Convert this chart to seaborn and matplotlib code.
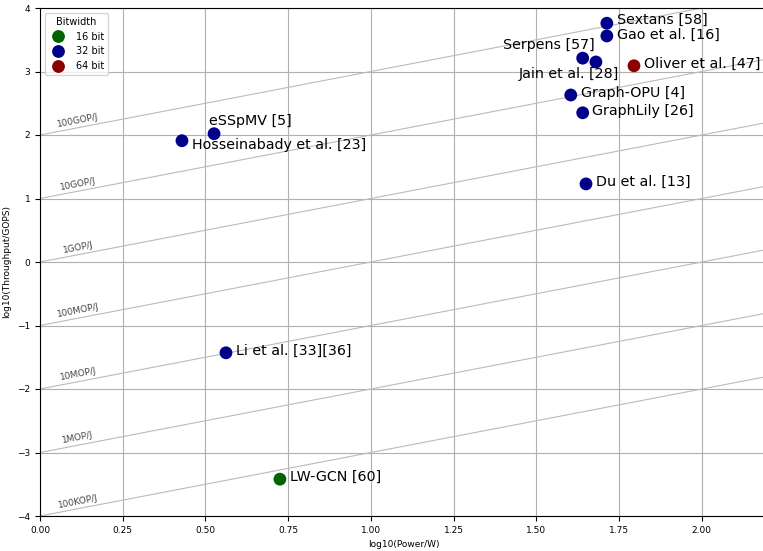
import numpy as np
import pandas as pd
import matplotlib
matplotlib.use("Agg")
import matplotlib.pyplot as plt
import seaborn as sns

# log10 values
names = ["Sextans [58]", "Gao et al. [16]", "Serpens [57]", "Jain et al. [28]",
         "Oliver et al. [47]", "Graph-OPU [4]", "GraphLily [26]", "Du et al. [13]",
         "eSSpMV [5]", "Hosseinabady et al. [23]", "Li et al. [33][36]", "LW-GCN [60]"]
log_power = [1.713, 1.713, 1.64, 1.68, 1.795, 1.604, 1.64, 1.65, 0.526, 0.429, 0.562, 0.725]
log_tput = [3.76, 3.56, 3.21, 3.15, 3.09, 2.63, 2.35, 1.23, 2.02, 1.91, -1.43, -3.42]
bitwidth = ["32 bit", "32 bit", "32 bit", "32 bit", "64 bit", "32 bit", "32 bit", "32 bit",
            "32 bit", "32 bit", "32 bit", "16 bit"]

# energy-efficiency iso-lines: log10(GOP/J)
eff_levels = [-4, -3, -2, -1, 0, 1, 2]
eff_labels = ["100KOP/J", "1MOP/J", "10MOP/J", "100MOP/J", "1GOP/J", "10GOP/J", "100GOP/J"]

palette = {"16 bit": "darkgreen", "32 bit": "darkblue", "64 bit": "darkred"}

df = pd.DataFrame({"Name": names, "Power": log_power, "Throughput": log_tput,
                   "Bitwidth": bitwidth})

fig = plt.figure(figsize=(7.63, 5.51), dpi=100)
ax = fig.add_axes([40 / 763, 35 / 551, 728 / 763, 508 / 551])

xs = np.array([0.0, 2.2])
for lvl, lab in zip(eff_levels, eff_labels):
    ax.plot(xs, xs + lvl, color="#bbbbbb", lw=0.8, zorder=1)
    ax.text(0.115, lvl + 0.23, lab, fontsize=6.5, color="#444444", rotation=11,
            ha="center", va="center")

sns.scatterplot(data=df, x="Power", y="Throughput", hue="Bitwidth",
                hue_order=["16 bit", "32 bit", "64 bit"], palette=palette,
                s=85, edgecolor="none", ax=ax, zorder=3)

# label offsets in points (dx, dy, ha)
offsets = {
    "Sextans [58]": (7, 2.5, "left"),
    "Gao et al. [16]": (7, 0.5, "left"),
    "Serpens [57]": (9, 9.5, "right"),
    "Jain et al. [28]": (17, -8.5, "right"),
    "eSSpMV [5]": (-3.5, 9.5, "left"),
    "Hosseinabady et al. [23]": (7, -3, "left"),
}
for n, x, y in zip(names, log_power, log_tput):
    dx, dy, ha = offsets.get(n, (7, 1.5, "left"))
    ax.annotate(n, (x, y), xytext=(dx, dy), textcoords="offset points",
                ha=ha, va="center", fontsize=10.3)

ax.set_xlim(0, 2.2)
ax.set_ylim(-4, 4)
ax.set_xticks([0, 0.25, 0.5, 0.75, 1.0, 1.25, 1.5, 1.75, 2.0])
ax.grid(True, color="#b0b0b0", lw=0.8)
ax.set_axisbelow(True)
ax.tick_params(labelsize=6.5)
ax.set_xlabel("log10(Power/W)", fontsize=6.5)
ax.set_ylabel("log10(Throughput/GOPS)", fontsize=6.5)
ax.legend(title="Bitwidth", loc="upper left", fontsize=7, title_fontsize=7,
          markerscale=1.0)

fig.savefig("out.png", dpi=100)
